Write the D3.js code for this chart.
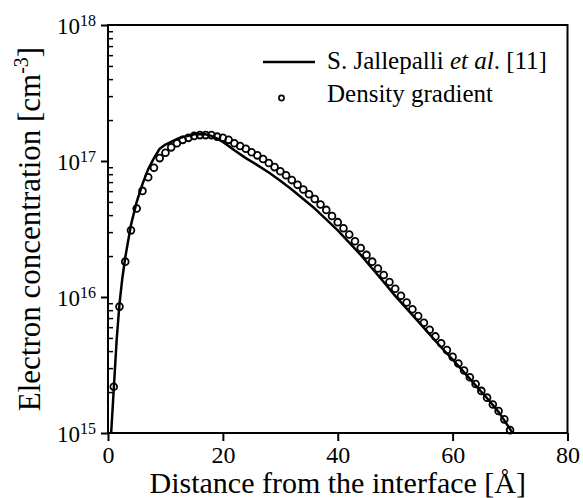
<!DOCTYPE html>
<html>
<head>
<meta charset="utf-8">
<script src="https://cdn.jsdelivr.net/npm/d3@7"></script>
<style>
  body { margin: 0; background: #fff; }
  svg text { font-family: 'Liberation Serif', 'DejaVu Serif', serif !important; fill: #000; }
</style>
</head>
<body>
<script>
// Density gradient results (circles), distance in Angstrom, concentration in cm^-3
var dgDist = [1, 2, 3, 4, 5, 6, 7, 8, 9, 10, 11, 12, 13, 14, 15, 16, 17, 18, 19, 20,
  21, 22, 23, 24, 25, 26, 27, 28, 29, 30, 31, 32, 33, 34, 35, 36, 37, 38, 39, 40,
  41, 42, 43, 44, 45, 46, 47, 48, 49, 50, 51, 52, 53, 54, 55, 56, 57, 58, 59, 60,
  61, 62, 63, 64, 65, 66, 67, 68, 69, 70];
var dgConc = [2.19e15, 8.5e15, 1.82e16, 3.09e16, 4.47e16, 6.03e16, 7.59e16, 8.91e16, 1.05e17, 1.15e17,
  1.26e17, 1.35e17, 1.43e17, 1.48e17, 1.53e17, 1.55e17, 1.55e17, 1.55e17, 1.51e17, 1.48e17,
  1.43e17, 1.35e17, 1.29e17, 1.23e17, 1.16e17, 1.10e17, 1.035e17, 9.66e16, 9.02e16, 8.41e16,
  7.85e16, 7.24e16, 6.68e16, 6.17e16, 5.69e16, 5.25e16, 4.79e16, 4.37e16, 3.94e16, 3.55e16,
  3.20e16, 2.88e16, 2.57e16, 2.29e16, 2.04e16, 1.82e16, 1.62e16, 1.45e16, 1.29e16, 1.15e16,
  1.02e16, 9.12e15, 8.13e15, 7.24e15, 6.46e15, 5.75e15, 5.13e15, 4.57e15, 4.07e15, 3.63e15,
  3.24e15, 2.88e15, 2.57e15, 2.29e15, 2.04e15, 1.82e15, 1.62e15, 1.45e15, 1.26e15, 1.05e15];

// S. Jallepalli et al. [11] (solid line)
var refDist = [0.55, 1, 1.5, 2, 2.5, 3, 4, 5, 6, 7, 8, 9, 10, 11, 12, 13, 14, 15, 16, 17,
  18, 19, 20, 21, 22, 24, 26, 28, 30, 32, 34, 36, 38, 40, 42, 44, 46, 48, 50, 52,
  54, 56, 58, 60, 62, 64, 66, 68, 70, 70.4];
var refConc = [1.0e15, 2.09e15, 4.79e15, 8.91e15, 1.38e16, 1.95e16, 3.39e16, 5.01e16, 6.76e16, 8.71e16,
  1.05e17, 1.23e17, 1.32e17, 1.38e17, 1.45e17, 1.50e17, 1.53e17, 1.57e17, 1.58e17, 1.57e17,
  1.53e17, 1.46e17, 1.38e17, 1.29e17, 1.20e17, 1.05e17, 9.33e16, 8.22e16, 7.16e16, 6.17e16,
  5.25e16, 4.47e16, 3.72e16, 3.09e16, 2.51e16, 2.04e16, 1.62e16, 1.29e16, 1.02e16, 8.22e15,
  6.61e15, 5.31e15, 4.27e15, 3.47e15, 2.79e15, 2.24e15, 1.80e15, 1.43e15, 1.07e15, 1.0e15];

var xTicks = [0, 20, 40, 60, 80];
var yTicks = [1e15, 1e16, 1e17, 1e18];
var yTickExp = ["15", "16", "17", "18"];
var legendLabels = ["S. Jallepalli ", "et al", ". [11]", "Density gradient"];

var serif = "'Liberation Serif', 'DejaVu Serif', serif";

var margin = {top: 25, right: 15.5, bottom: 65, left: 108};
var width = 583 - margin.left - margin.right;
var height = 498 - margin.top - margin.bottom;

var x = d3.scaleLinear().domain([0, 80]).range([0, width]);
var y = d3.scaleLog().domain([1e15, 1e18]).range([height, 0]);

var svg = d3.select("body").append("svg")
    .attr("width", 583)
    .attr("height", 498)
    .attr("font-family", serif)
  .append("g")
    .attr("transform", "translate(" + margin.left + "," + margin.top + ")");

// minor log ticks, inside the left axis
var minor = [];
[1e15, 1e16, 1e17].forEach(function(b) {
  for (var k = 2; k <= 9; k++) minor.push(b * k);
});

svg.append("g")
    .call(d3.axisLeft(y).tickValues(minor).tickSize(-5).tickFormat(""))
    .call(function(g) { g.select(".domain").remove(); })
    .selectAll("line").attr("stroke-width", 1.5);

var yAxis = svg.append("g")
    .call(d3.axisLeft(y).tickValues(yTicks).tickSize(7).tickFormat(""));
yAxis.select(".domain").remove();
yAxis.selectAll("line").attr("stroke-width", 2);

var yLab = svg.append("g").selectAll("text")
    .data(yTicks)
  .enter().append("text")
    .attr("x", -12)
    .attr("y", function(d) { return y(d) + 9; })
    .attr("font-family", serif)
    .style("text-anchor", "end")
    .style("font-size", "23px");
yLab.append("tspan").text("10");
yLab.append("tspan")
    .attr("dy", -8)
    .style("font-size", "16px")
    .text(function(d, i) { return yTickExp[i]; });

var xAxis = svg.append("g")
    .attr("transform", "translate(0," + height + ")")
    .call(d3.axisBottom(x).tickValues(xTicks).tickSize(8).tickPadding(5).tickFormat(d3.format("d")));
xAxis.attr("font-family", serif);
xAxis.select(".domain").remove();
xAxis.selectAll("line").attr("stroke-width", 2);
xAxis.selectAll("text")
    .attr("font-family", serif)
    .style("font-size", "24px");

// frame
svg.append("rect")
    .attr("width", width)
    .attr("height", height)
    .attr("fill", "none")
    .attr("stroke", "#000")
    .attr("stroke-width", 2);

var line = d3.line()
    .x(function(d) { return x(d[0]); })
    .y(function(d) { return y(d[1]); });

svg.append("path")
    .datum(d3.zip(refDist, refConc))
    .attr("fill", "none")
    .attr("stroke", "#000")
    .attr("stroke-width", 2.5)
    .attr("stroke-linejoin", "round")
    .attr("d", line);

svg.selectAll("circle.dg")
    .data(d3.zip(dgDist, dgConc))
  .enter().append("circle")
    .attr("class", "dg")
    .attr("cx", function(d) { return x(d[0]); })
    .attr("cy", function(d) { return y(d[1]); })
    .attr("r", 3.4)
    .attr("fill", "none")
    .attr("stroke", "#000")
    .attr("stroke-width", 1.8);

// legend
var leg = svg.append("g").attr("transform", "translate(155,0)");
leg.append("line")
    .attr("x1", 0).attr("x2", 52)
    .attr("y1", 37).attr("y2", 37)
    .attr("stroke", "#000")
    .attr("stroke-width", 2.5);
var t1 = leg.append("text")
    .attr("x", 64).attr("y", 44)
    .attr("font-family", serif)
    .style("font-size", "25px");
t1.append("tspan").text(legendLabels[0]);
t1.append("tspan").style("font-style", "italic").text(legendLabels[1]);
t1.append("tspan").text(legendLabels[2]);
leg.append("circle")
    .attr("cx", 18.5).attr("cy", 73)
    .attr("r", 2.6)
    .attr("fill", "none")
    .attr("stroke", "#000")
    .attr("stroke-width", 1.6);
leg.append("text")
    .attr("x", 64).attr("y", 77)
    .attr("font-family", serif)
    .style("font-size", "25px")
    .text(legendLabels[3]);

// axis titles
svg.append("text")
    .attr("x", width / 2)
    .attr("y", height + 60)
    .attr("font-family", serif)
    .style("text-anchor", "middle")
    .style("font-size", "30px")
    .text("Distance from the interface [\u00C5]");

var yt = svg.append("text")
    .attr("transform", "translate(-68," + (height / 2) + ") rotate(-90)")
    .attr("font-family", serif)
    .style("text-anchor", "middle")
    .style("font-size", "31px");
yt.append("tspan").text("Electron concentration [cm");
yt.append("tspan").attr("dy", -12).style("font-size", "20px").text("-3");
yt.append("tspan").attr("dy", 12).text("]");
</script>
</body>
</html>
